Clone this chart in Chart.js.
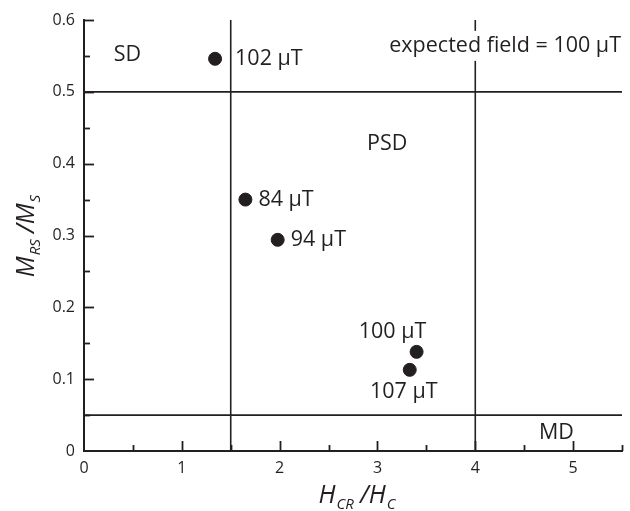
<!DOCTYPE html>
<html>
<head>
<meta charset="utf-8">
<style>
  html, body { margin: 0; padding: 0; background: #fff; }
  #wrap { width: 630px; height: 511px; }
</style>
<script src="https://cdn.jsdelivr.net/npm/chart.js@4.4.1/dist/chart.umd.min.js"></script>
</head>
<body>
<div id="wrap"><canvas id="c" width="630" height="511"></canvas></div>
<script>
// ---- data ----
const hcrHc   = [1.34, 1.65, 1.98, 3.40, 3.33];
const mrsMs   = [0.546, 0.350, 0.294, 0.138, 0.113];
const fieldLabels = ['102 μT', '84 μT', '94 μT', '100 μT', '107 μT'];
const regionNames = ['SD', 'PSD', 'MD'];
const hBoundaries = [0.5, 0.05];   // Mrs/Ms boundaries
const vBoundaries = [1.5, 4];      // Hcr/Hc boundaries
const xRange = [0, 5.5];
const yRange = [0, 0.6];
const noteText = 'expected field = 100 μT';

const INK = '#231f20';
const FONT = '"Open Sans", "Liberation Sans", sans-serif';

const points = hcrHc.map((x, i) => ({ x, y: mrsMs[i] }));

const lineSets = [];
hBoundaries.forEach(v => lineSets.push({
  type: 'line', data: [{ x: xRange[0], y: v }, { x: xRange[1], y: v }],
  borderColor: INK, borderWidth: 1.6, pointRadius: 0, fill: false, order: 2
}));
vBoundaries.forEach(v => lineSets.push({
  type: 'line', data: [{ x: v, y: yRange[0] }, { x: v, y: yRange[1] }],
  borderColor: INK, borderWidth: 1.6, pointRadius: 0, fill: false, order: 2
}));

const isMultiple = (v, step) => Math.abs(v / step - Math.round(v / step)) < 1e-6;

const decorPlugin = {
  id: 'decor',
  afterDatasetsDraw(chart) {
    const ctx = chart.ctx;
    const xs = chart.scales.x, ys = chart.scales.y;
    const area = chart.chartArea;
    ctx.save();
    ctx.strokeStyle = INK;
    ctx.lineWidth = 1.8;
    // inward ticks
    xs.ticks.forEach(t => {
      if (t.value === 0) return;
      const px = Math.round(xs.getPixelForValue(t.value)) + 0.5;
      const len = isMultiple(t.value, 1) ? 10 : 6;
      ctx.beginPath(); ctx.moveTo(px, area.bottom); ctx.lineTo(px, area.bottom - len); ctx.stroke();
    });
    ys.ticks.forEach(t => {
      if (t.value === 0) return;
      const py = Math.round(ys.getPixelForValue(t.value)) + 0.5;
      const len = isMultiple(t.value, 0.1) ? 10 : 6;
      ctx.beginPath(); ctx.moveTo(area.left, py); ctx.lineTo(area.left + len, py); ctx.stroke();
    });

    ctx.fillStyle = INK;
    ctx.textBaseline = 'middle';
    ctx.font = '21.5px ' + FONT;
    // point labels
    const offs = [[20, 0, 'left'], [13, 0, 'left'], [13, 0, 'left'], [-24, -20, 'center'], [-6, 22, 'center']];
    points.forEach((p, i) => {
      const px = xs.getPixelForValue(p.x), py = ys.getPixelForValue(p.y);
      ctx.textAlign = offs[i][2];
      ctx.fillText(fieldLabels[i], px + offs[i][0], py + offs[i][1]);
    });
    // region labels
    ctx.textAlign = 'center';
    const regionPos = [[0.445, 0.552], [3.1, 0.427], [4.83, 0.025]];
    regionNames.forEach((r, i) => {
      ctx.fillText(r, xs.getPixelForValue(regionPos[i][0]), ys.getPixelForValue(regionPos[i][1]));
    });
    // note with white background over the boundary line
    const w = ctx.measureText(noteText).width;
    const nx = area.right - 1, ny = ys.getPixelForValue(0.564);
    ctx.fillStyle = '#fff';
    ctx.fillRect(nx - w - 2, ny - 15, w + 4, 30);
    ctx.fillStyle = INK;
    ctx.textAlign = 'right';
    ctx.fillText(noteText, nx, ny);

    // axis titles with subscripts
    const drawTitle = (parts, cx, cy, rot) => {
      ctx.save();
      ctx.translate(cx, cy);
      ctx.rotate(rot);
      ctx.textAlign = 'left';
      ctx.textBaseline = 'alphabetic';
      let total = 0;
      parts.forEach(p => { ctx.font = p[1]; total += ctx.measureText(p[0]).width + (p[3] || 0); });
      let x = -total / 2;
      parts.forEach(p => {
        ctx.font = p[1];
        ctx.fillText(p[0], x, p[2]);
        x += ctx.measureText(p[0]).width + (p[3] || 0);
      });
      ctx.restore();
    };
    const big = 'italic 25px ' + FONT, sub = 'italic 15px ' + FONT;
    drawTitle([['H', big, 0, 1], ['CR', sub, 6, 6], ['/H', big, 0, 1], ['C', sub, 6, 0]], 357, 503, 0);
    drawTitle([['M', big, 0, 1], ['RS', sub, 6, 6], ['/M', big, 0, 1], ['S', sub, 6, 0]], 34, 236, -Math.PI / 2);
    ctx.restore();
  }
};

new Chart(document.getElementById('c'), {
  type: 'scatter',
  data: {
    datasets: [
      { data: points, backgroundColor: INK, borderColor: INK, pointRadius: 6.5, pointHoverRadius: 6.5, order: 1 },
      ...lineSets
    ]
  },
  options: {
    responsive: false,
    devicePixelRatio: 1,
    animation: false,
    events: [],
    layout: { padding: { top: 20, right: 4, left: 0, bottom: 0 } },
    plugins: { legend: { display: false }, tooltip: { enabled: false } },
    scales: {
      x: {
        type: 'linear', min: xRange[0], max: xRange[1],
        grid: { display: false, drawTicks: false },
        border: { display: true, color: INK, width: 2 },
        ticks: {
          stepSize: 0.5, autoSkip: false, maxRotation: 0, padding: 8,
          color: INK, font: { family: FONT, size: 16 },
          callback: v => isMultiple(v, 1) ? String(Math.round(v)) : ''
        },
        afterFit: s => { s.height = 60; }
      },
      y: {
        type: 'linear', min: yRange[0], max: yRange[1],
        grid: { display: false, drawTicks: false },
        border: { display: true, color: INK, width: 2 },
        ticks: {
          stepSize: 0.05, autoSkip: false, padding: 9,
          color: INK, font: { family: FONT, size: 16 },
          callback: v => isMultiple(v, 0.1) ? (Math.abs(v) < 1e-9 ? '0' : v.toFixed(1)) : ''
        },
        afterFit: s => { s.width = 84; }
      }
    }
  },
  plugins: [decorPlugin]
});
</script>
</body>
</html>
